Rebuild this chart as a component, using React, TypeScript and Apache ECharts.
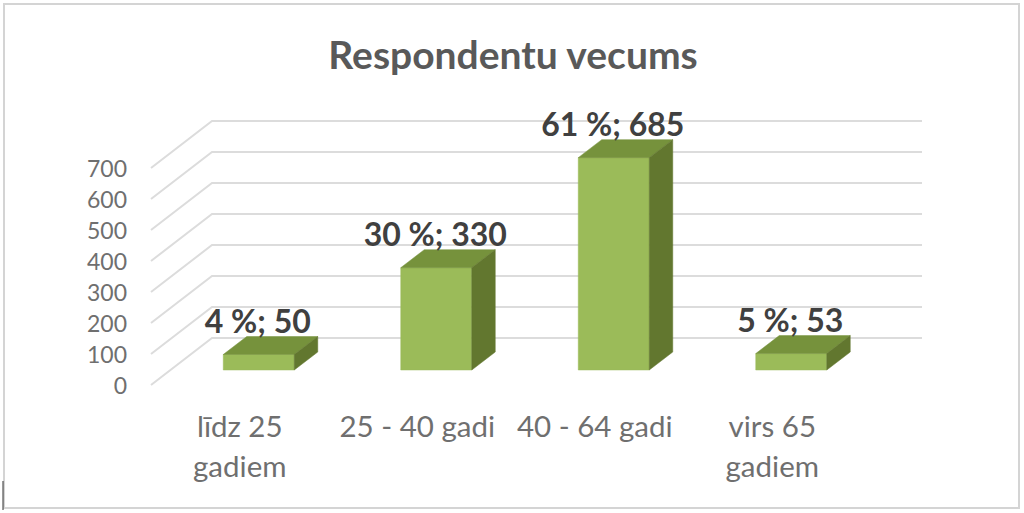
import React, { useEffect, useRef } from "react";
import * as echarts from "echarts";

const titleText = "Respondentu vecums";
const categories = ["līdz 25\ngadiem", "25 - 40 gadi", "40 - 64 gadi", "virs 65\ngadiem"];
const counts = [50, 330, 685, 53];
const percents = ["4 %", "30 %", "61 %", "5 %"];
const gridTicks = [0, 100, 200, 300, 400, 500, 600, 700];

const FONT = "Lato, 'Open Sans', sans-serif";
const WALL_DX = 61;
const WALL_DY = 47;
const BAR_OFFSET_X = 19;
const BAR_OFFSET_Y = 15;
const BAR_DX = 23.5;
const BAR_DY = 18;
const BAR_WIDTH_RATIO = 0.4;

const renderGridLine = (params: any, api: any) => {
  const cs = params.coordSys;
  const p = api.coord([0, api.value(1)]);
  const y = p[1];
  return {
    type: "polyline",
    silent: true,
    shape: {
      points: [
        [cs.x, y],
        [cs.x + WALL_DX, y - WALL_DY],
        [cs.x + cs.width + WALL_DX, y - WALL_DY],
      ],
    },
    style: { fill: "none", stroke: "#dcdcdc", lineWidth: 2 },
  };
};

const renderBar = (params: any, api: any) => {
  const idx = api.value(0);
  const val = api.value(1);
  const top = api.coord([idx, val]);
  const base = api.coord([idx, 0]);
  const w = api.size([1, 0])[0] * BAR_WIDTH_RATIO;
  const l = top[0] + BAR_OFFSET_X - w / 2;
  const r = l + w;
  const t = top[1] - BAR_OFFSET_Y;
  const b = base[1] - BAR_OFFSET_Y;
  const poly = (points: number[][], fill: string) => ({
    type: "polygon",
    shape: { points },
    style: { fill, stroke: fill, lineWidth: 0.5 },
  });
  return {
    type: "group",
    children: [
      poly([[l, t], [r, t], [r, b], [l, b]], "#9bbb59"),
      poly([[l, t], [r, t], [r + BAR_DX, t - BAR_DY], [l + BAR_DX, t - BAR_DY]], "#76923c"),
      poly([[r, t], [r + BAR_DX, t - BAR_DY], [r + BAR_DX, b - BAR_DY], [r, b]], "#62772f"),
      {
        type: "text",
        style: {
          x: (l + r) / 2 - 1,
          y: t - BAR_DY - 16,
          text: `${percents[idx]}; ${counts[idx]}`,
          fill: "#404040",
          font: `bold 32px ${FONT}`,
          align: "center",
          verticalAlign: "middle",
        },
      },
    ],
  };
};

export default function App() {
  const ref = useRef<HTMLDivElement>(null);
  useEffect(() => {
    const chart = echarts.init(ref.current!, undefined, { renderer: "svg" });
    chart.setOption({
      animation: false,
      backgroundColor: "#ffffff",
      title: {
        text: titleText,
        left: 508,
        top: 29,
        textAlign: "center",
        textStyle: { color: "#595959", fontFamily: FONT, fontWeight: "bold", fontSize: 39 },
      },
      grid: { left: 151, top: 168, width: 710, height: 217 },
      xAxis: {
        type: "category",
        data: categories,
        axisLine: { show: false },
        axisTick: { show: false },
        axisLabel: {
          color: "#6f6f6f",
          fontFamily: FONT,
          fontSize: 29.5,
          lineHeight: 40,
          margin: 20,
          interval: 0,
        },
      },
      yAxis: {
        type: "value",
        min: 0,
        max: 700,
        interval: 100,
        axisLine: { show: false },
        axisTick: { show: false },
        splitLine: { show: false },
        axisLabel: { color: "#6f6f6f", fontFamily: FONT, fontSize: 23, margin: 24 },
      },
      series: [
        {
          type: "custom",
          z: 1,
          silent: true,
          renderItem: renderGridLine,
          data: gridTicks.map((v) => [0, v]),
          encode: { x: 0, y: 1 },
        },
        {
          type: "custom",
          z: 2,
          silent: true,
          renderItem: renderBar,
          data: counts.map((v, i) => [i, v]),
          encode: { x: 0, y: 1 },
        },
      ],
      graphic: [
        {
          type: "rect",
          silent: true,
          shape: { x: 4, y: 4, width: 1015, height: 504 },
          style: { fill: "none", stroke: "#d4d4d4", lineWidth: 2 },
        },
        {
          type: "line",
          silent: true,
          shape: { x1: 3, y1: 481, x2: 3, y2: 510 },
          style: { stroke: "#333333", lineWidth: 1 },
        },
      ],
    });
    return () => chart.dispose();
  }, []);
  return <div ref={ref} style={{ position: "fixed", left: 0, top: 0, width: 1024, height: 513 }} />;
}
